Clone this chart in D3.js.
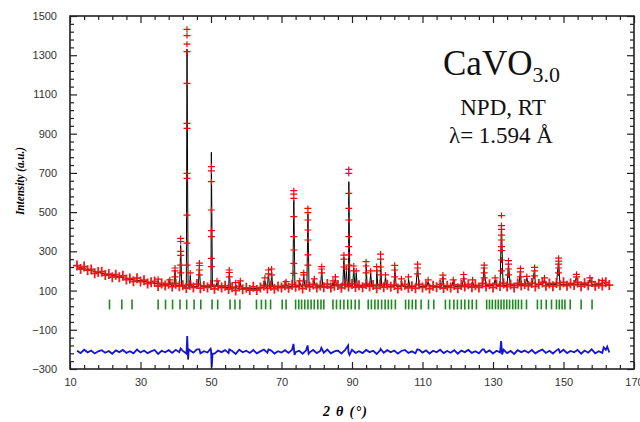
<!DOCTYPE html>
<html><head><meta charset="utf-8">
<script src="https://cdn.jsdelivr.net/npm/d3@7"></script>
<style>html,body{margin:0;padding:0;background:#fff;} svg{display:block;}</style>
</head><body>
<svg id="c" width="640" height="422"></svg>
<script>
// ---------- DATA ----------
// 2θ of the first background point; points follow every 1°
const thetaStart = 12;
// calculated background profile (12°..163°)
const calcBg = [
222,217,212,207,202,197,192,188,184,180,
178,174,170,166,162,158,155,152,150,147,
143,140,137,134,131,129,127,126,125,124,
123,122,122,121,121,120,120,120,119,119,
118,117,116,115,113,112,111,110,109,109,
110,111,113,115,116,117,118,118,119,119,
120,120,121,121,121,121,122,122,122,122,
122,122,123,123,123,123,123,124,124,124,
124,124,124,123,123,123,123,122,122,122,
122,121,121,121,120,120,120,120,120,119,
119,119,120,120,120,121,121,121,122,122,
122,123,123,124,124,124,125,125,125,126,
126,126,127,127,127,128,128,128,129,129,
129,130,130,130,131,131,131,131,132,132,
132,132,132,132,132,132,132,132,132,132,
132,132];
// observed intensity on the background (12°..163°)
const obsBg = [
227,210,222,204,208,188,194,196,179,184,
168,181,168,175,156,161,147,163,146,153,
136,142,146,123,136,126,135,120,135,122,
127,113,129,116,133,112,123,116,128,109,
124,115,124,108,117,101,121,107,114,103,
119,103,115,126,111,124,109,121,115,127,
114,130,119,126,111,128,119,131,115,126,
117,133,115,125,129,114,131,120,134,118,
127,117,133,121,128,112,130,117,130,119,
128,111,125,130,114,122,112,131,116,126,
110,124,117,130,113,125,116,129,112,128,
120,132,117,127,116,136,121,132,116,131,
123,136,120,131,116,136,126,134,124,138,
121,133,141,124,136,122,138,127,142,125,
136,129,141,122,138,127,144,124,135,126,
142,128];
// Bragg reflections
const peakPos  = [35.0,38.3,39.8,41.4,43.2,44.1,46.7,50.1,51.7,55.2,57.0,58.3,65.3,66.3,67.2,71.3,73.5,75.2,76.3,77.5,79.3,81.4,84.6,85.3,87.7,88.4,89.1,90.5,91.2,94.0,95.3,97.0,98.1,99.5,102.1,104.0,106.0,108.6,111.6,115.8,118.7,121.7,124.2,127.5,130.6,132.4,134.4,137.8,139.6,141.8,144.6,148.6,153.7,157.5,161.0];
const peakCalc = [150,150,205,330,1330,175,225,805,140,195,130,140,150,190,195,135,560,140,180,490,150,210,140,165,270,200,655,215,190,235,190,210,270,170,220,150,160,225,145,170,145,170,145,220,155,437,240,205,165,210,155,255,170,155,145];
const peakObs = [
 [158],[155],[215,200,170],[366,350,300,280,230,190],
 [1432,1400,1356,1318,1157,953,927,698,672,485,342,230],
 [190],[240,228,205,180],[732,710,655,511,405,375,264,222],
 [150],[205,192,170],[140],[150],[165],[205,185],[210,180],[145],
 [609,592,570,477,375,307,239,188],[150],[191,180],
 [519,497,460,409,358,282,230],[160],[222,210,190],[150],[170],
 [281,260,220],[210],[718,698,596,519,460,375,324,282,230],
 [225,200],[200],[247,225,190],[200],[222,200],[286,260,220,180],[180],
 [229,205,170],[160],[170],[235,215,185],[155],[179,160],[155],[182,160],
 [155],[230,215,190,165],[165],[482,431,412,383,358,324,303,256,200],
 [252,235,210,180],[213,195,170],[172],[218,200,175],[165],
 [265,250,235,215,190],[183,170],[165],[152]];
// Bragg tick positions (2θ)
const braggPos = [21.2,24.7,27.6,35.0,37.1,39.1,41.2,43.1,45.2,47.1,50.3,51.9,55.4,56.8,58.2,62.9,64.3,65.5,66.9,70.2,71.3,74.0,74.9,75.7,76.6,77.5,78.4,79.3,80.3,81.2,82.0,84.6,85.6,86.7,87.7,88.8,89.8,90.9,92.0,94.6,95.5,96.5,97.4,98.4,99.4,100.3,101.2,102.3,105.2,106.1,107.1,108.1,109.6,111.7,113.2,116.5,117.7,118.9,119.9,121.0,122.0,123.1,124.1,125.3,128.2,129.0,129.8,130.7,131.5,132.3,133.1,133.9,134.7,135.6,136.4,137.2,138.1,139.5,142.6,143.7,145.1,146.6,148.0,148.8,149.6,150.4,151.9,155.0,158.1];
const braggRange = [4, 54];
// difference curve: offset and the sharp features
const diffOffset = -212;
const diffSpikeTheta = [41.4,43.1,43.25,43.5,43.7,46.7,49.9,50.2,50.45,55.2,66.3,73.4,73.7,77.4,77.7,81.3,88.9,89.3,98.1,108.5,127.4,132.3,132.6,148.6,161.4,162.4];
const diffSpikeVal   = [-195,-205,-132,-252,-200,-200,-196,-292,-222,-200,-200,-172,-228,-180,-222,-192,-180,-228,-198,-200,-200,-158,-226,-198,-190,-186];
// axes
const xTicks = [10,30,50,70,90,110,130,150,170];
const yTicks = [-300,-100,100,300,500,700,900,1100,1300,1500];

// ---------- DRAW ----------
const svg = d3.select('#c');
const x = d3.scaleLinear().domain([10,170]).range([70,634]);
const y = d3.scaleLinear().domain([-300,1500]).range([369,16]);
const bgTheta = calcBg.map((_, i) => thetaStart + i);

const RED = '#ea0a0a', BLUE = '#1414d6', GREEN = '#1f8a1f';

// Bragg ticks
svg.append('g').attr('stroke', GREEN).attr('stroke-width', 1.6)
  .selectAll('line').data(braggPos).join('line')
  .attr('x1', d => x(d)).attr('x2', d => x(d))
  .attr('y1', y(braggRange[0])).attr('y2', y(braggRange[1]));

// calculated profile
const hw = t => t < 100 ? 0.3 : t < 140 ? 0.45 : t < 150 ? 0.7 : 0.9;
const calcPts = bgTheta.map((t, i) => [t, calcBg[i]]);
peakPos.forEach((p, k) => {
  const base = calcBg[Math.round(p) - thetaStart];
  calcPts.push([p - hw(p), base], [p, peakCalc[k]], [p + hw(p), base]);
});
calcPts.sort((a, b) => a[0] - b[0]);
const line = d3.line().x(d => x(d[0])).y(d => y(d[1]));
svg.append('path').attr('d', line(calcPts)).attr('fill', 'none')
  .attr('stroke', '#000').attr('stroke-width', 1);

// observed crosses (background band), drawn over the calculated line
let dBand = '';
bgTheta.forEach((t, i) => {
  const px = x(t), py = y(obsBg[i]);
  dBand += `M${(px-4).toFixed(1)},${py.toFixed(1)}h8M${px.toFixed(1)},${(py-5).toFixed(1)}v10`;
});
svg.append('path').attr('d', dBand).attr('stroke', RED).attr('stroke-width', 1.8)
  .attr('fill', 'none').attr('opacity', 0.92);

// observed crosses on the peaks
let dPk = '';
peakPos.forEach((p, k) => peakObs[k].forEach(v => {
  const px = x(p), py = y(v);
  dPk += `M${(px-3.5).toFixed(1)},${py.toFixed(1)}h7M${px.toFixed(1)},${(py-3).toFixed(1)}v6`;
}));
svg.append('path').attr('d', dPk).attr('stroke', RED).attr('stroke-width', 1.2).attr('fill', 'none');

// difference curve
const diffPts = bgTheta.map((t, i) => [t, obsBg[i] - calcBg[i] + diffOffset]);
diffSpikeTheta.forEach((t, k) => diffPts.push([t, diffSpikeVal[k]]));
diffPts.sort((a, b) => a[0] - b[0]);
svg.append('path').attr('d', line(diffPts)).attr('fill', 'none')
  .attr('stroke', BLUE).attr('stroke-width', 1.8);

// axes
const xMinor = d3.range(10, 171, 4).filter(v => (v - 10) % 20 !== 0);
const yMinor = d3.range(-300, 1501, 40).filter(v => (v + 300) % 200 !== 0);
const styleAxis = g => {
  g.select('.domain').remove();
  g.selectAll('.tick line').attr('stroke', '#222').attr('stroke-width', 1.2);
  g.attr('font-family', 'Liberation Sans, Arial, sans-serif').attr('font-size', 11);
  g.selectAll('.tick text').attr('fill', '#333');
};
const [x0, x1] = x.range(), [y0, y1] = y.range();
svg.append('g').attr('transform', `translate(0,${y0})`)
  .call(d3.axisBottom(x).tickValues(xMinor).tickSize(-4).tickFormat('')).call(styleAxis);
svg.append('g').attr('transform', `translate(0,${y0})`)
  .call(d3.axisBottom(x).tickValues(xTicks).tickSize(-7).tickPadding(9).tickFormat(d3.format('d'))).call(styleAxis);
svg.append('g').attr('transform', `translate(0,${y1})`)
  .call(d3.axisTop(x).tickValues(xMinor).tickSize(-4).tickFormat('')).call(styleAxis);
svg.append('g').attr('transform', `translate(0,${y1})`)
  .call(d3.axisTop(x).tickValues(xTicks).tickSize(-7).tickFormat('')).call(styleAxis);
svg.append('g').attr('transform', `translate(${x0},0)`)
  .call(d3.axisLeft(y).tickValues(yMinor).tickSize(-4).tickFormat('')).call(styleAxis);
svg.append('g').attr('transform', `translate(${x0},0)`)
  .call(d3.axisLeft(y).tickValues(yTicks).tickSize(-7).tickPadding(13).tickFormat(d3.format('d'))).call(styleAxis);
svg.append('g').attr('transform', `translate(${x1},0)`)
  .call(d3.axisRight(y).tickValues(yMinor).tickSize(-4).tickFormat('')).call(styleAxis);
svg.append('g').attr('transform', `translate(${x1},0)`)
  .call(d3.axisRight(y).tickValues(yTicks).tickSize(-7).tickFormat('')).call(styleAxis);

// frame
svg.append('rect').attr('x', x0).attr('y', y1).attr('width', x1 - x0).attr('height', y0 - y1)
  .attr('fill', 'none').attr('stroke', '#222').attr('stroke-width', 1.6);

// axis titles
svg.append('text').attr('transform', 'translate(19,181) rotate(-90)')
  .attr('text-anchor', 'middle').attr('dy', '0.35em')
  .attr('font-family', 'Liberation Serif, Times New Roman, serif')
  .attr('font-weight', 'bold').attr('font-style', 'italic').attr('font-size', 13)
  .attr('textLength', 68).attr('lengthAdjust', 'spacingAndGlyphs')
  .text('Intensity (a.u.)');
svg.append('text').attr('x', 345).attr('y', 416).attr('text-anchor', 'middle')
  .attr('font-family', 'Liberation Serif, Times New Roman, serif')
  .attr('font-weight', 'bold').attr('font-style', 'italic').attr('font-size', 14)
  .attr('textLength', 44).attr('lengthAdjust', 'spacing')
  .text('2 θ (°)');

// annotation
const serif = 'Liberation Serif, Times New Roman, serif';
const t1 = svg.append('text').attr('x', 443).attr('y', 75).attr('font-family', serif).attr('font-size', 35).attr('fill', '#111');
t1.append('tspan').text('CaVO');
t1.append('tspan').attr('font-size', 22).attr('dy', 7).text('3.0');
svg.append('text').attr('x', 503).attr('y', 115).attr('text-anchor', 'middle')
  .attr('font-family', serif).attr('font-size', 23).attr('fill', '#111').text('NPD, RT');
svg.append('text').attr('x', 501).attr('y', 143).attr('text-anchor', 'middle')
  .attr('font-family', serif).attr('font-size', 23).attr('fill', '#111').text('λ= 1.594 Å');
</script>
</body></html>
